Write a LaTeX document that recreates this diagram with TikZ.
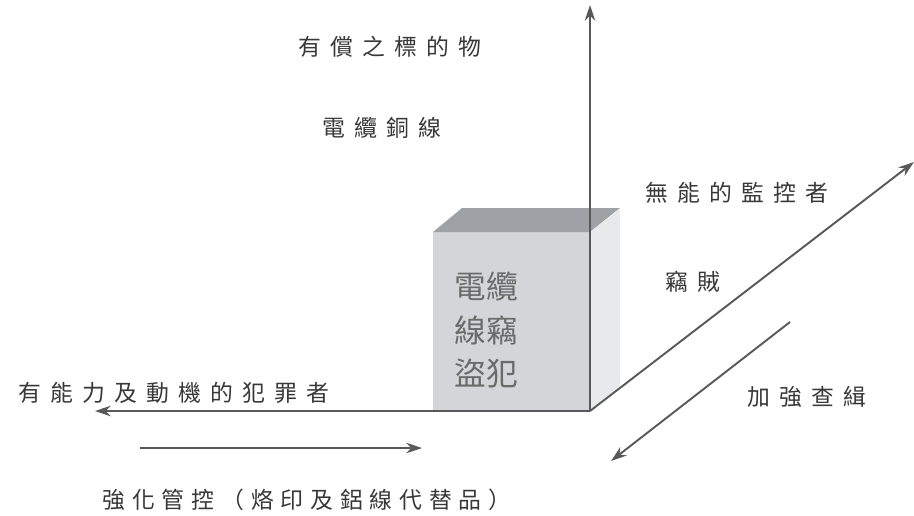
\documentclass[tikz,border=0pt]{standalone}
\usepackage{fontspec}
\newfontfamily\cjk[LetterSpace=40]{Noto Sans CJK TC}
\newfontfamily\cjkwide[LetterSpace=30]{Noto Sans CJK TC}
\newfontfamily\cjkbox{Noto Sans CJK TC}
\usetikzlibrary{arrows.meta}
\definecolor{boxtop}{RGB}{158,162,166}
\definecolor{boxfront}{RGB}{211,213,216}
\definecolor{boxside}{RGB}{231,233,235}

\begin{document}
\begin{tikzpicture}[x=0.02cm,y=-0.02cm,>={Stealth[length=9pt,width=6pt]},
                    axis/.style={->,draw=black!65,line width=1.1pt},
                    lbl/.style={font=\cjk\fontsize{13}{15}\selectfont,text=black!78,inner sep=0pt}]
  \useasboundingbox (0,0) rectangle (914,515);

  % the block
  \fill[boxfront] (433,232) rectangle (590,411);
  \fill[boxtop] (433,232) -- (462,208) -- (620,208) -- (590,232) -- cycle;
  \fill[boxside] (590,232) -- (620,208) -- (620,386) -- (590,411) -- cycle;
  \node[font=\cjkbox\fontsize{18}{24.5}\selectfont,text=black!58,align=center]
    (crime) at (486,330) {電纜\\線竊\\盜犯};

  \coordinate (O)   at (590,411);
  \coordinate (up)  at (590,5);
  \coordinate (lt)  at (95,411);
  \coordinate (ne)  at (914,162);
  \coordinate (sw0) at (790,322);
  \coordinate (sw)  at (611,461);
  \coordinate (rt0) at (140,448);
  \coordinate (rt)  at (422,448);

  \node[lbl] (target)   at (390,47)  {有償之標的物};
  \node[lbl] (copper)   at (382,128) {電纜銅線};
  \node[lbl] (guard)    at (737,193) {無能的監控者};
  \node[lbl] (thief)    at (693,282) {竊賊};
  \node[lbl] (patrol)   at (807,397) {加強查緝};
  \node[lbl] (offender) at (174,393) {有能力及動機的犯罪者};
  \node[lbl,font=\cjkwide\fontsize{13}{15}\selectfont]
    (control) at (307,500) {強化管控（烙印及鋁線代替品）};

  \draw[axis] (O) -- (up);
  \draw[axis] (O) -- (lt);
  \draw[axis] (O) -- (ne);
  \draw[axis] (sw0) -- (sw);
  \draw[axis] (rt0) -- (rt);
\end{tikzpicture}
\end{document}
